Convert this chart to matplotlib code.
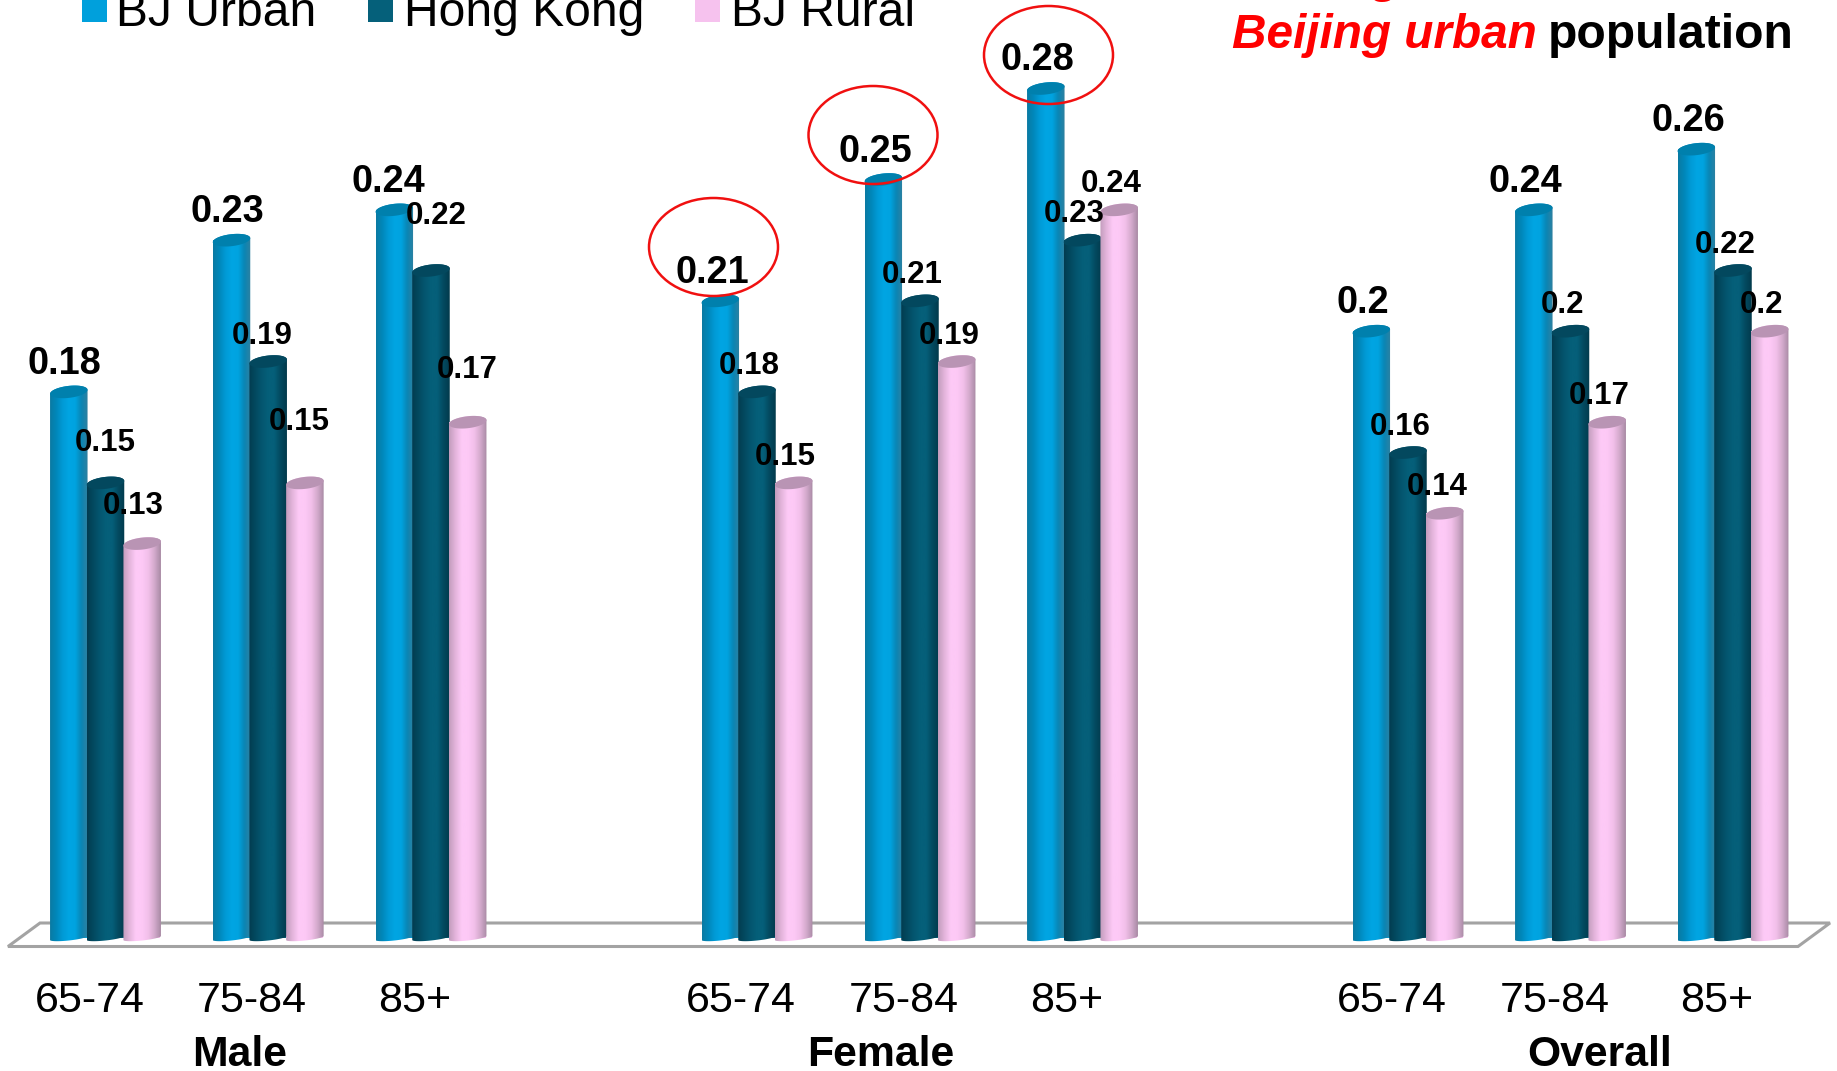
import numpy as np
import matplotlib
matplotlib.use("Agg")
import matplotlib.pyplot as plt
from matplotlib.colors import LinearSegmentedColormap
from matplotlib.patches import Ellipse, Polygon, Rectangle

plt.rcParams["font.family"] = ["Liberation Sans", "DejaVu Sans"]

groups = ["Male", "Female", "Overall"]
age_bands = ["65-74", "75-84", "85+"]
series_names = ["BJ Urban", "Hong Kong", "BJ Rural"]

bj_urban = [0.18, 0.23, 0.24, 0.21, 0.25, 0.28, 0.2, 0.24, 0.26]
hong_kong = [0.15, 0.19, 0.22, 0.18, 0.21, 0.23, 0.16, 0.2, 0.22]
bj_rural = [0.13, 0.15, 0.17, 0.15, 0.19, 0.24, 0.14, 0.17, 0.2]
values = [bj_urban, hong_kong, bj_rural]

W, H = 1837, 1071
baseline_px = 938
px_per_unit = 3034

# cylinder shading, left edge to right edge
ramps = [
    ["#0a7aa3", "#0088bb", "#009ad6", "#00a5e3", "#00a3e0", "#0a86b4", "#2f80a0"],
    ["#023c50", "#034a60", "#04566f", "#055f79", "#055f79", "#034a60", "#023a4c"],
    ["#c39dbd", "#e4b5dc", "#fdc9f6", "#fdc9f6", "#f2c0ea", "#d4aacd", "#a98ba5"],
]
cap_colors = ["#0080ad", "#03485e", "#b994b4"]
flat_colors = ["#00a0dc", "#05607a", "#fdc9f6"]
legend_colors = ["#00a0dc", "#05607a", "#f6c2ee"]

cluster_x = [105.5, 268.2, 431, 757, 920, 1082.5, 1408, 1570.5, 1733]
bar_w = 37.5
slot = 36.7

fig = plt.figure(figsize=(W / 100, H / 100), dpi=100, facecolor="white")


def pixel_axes(z):
    a = fig.add_axes([0, 0, 1, 1], zorder=z)
    a.set_xlim(0, W)
    a.set_ylim(H, 0)
    a.axis("off")
    return a


back = pixel_axes(0)
over = pixel_axes(2)

ax = fig.add_axes([0, 0, 1, 1], zorder=1)
ax.patch.set_alpha(0)
ax.axis("off")

# floor of the 3d chart
back.add_patch(Polygon([(8, 946.5), (40, 923), (1830, 923), (1798, 946.5)], closed=True,
                       facecolor="white", edgecolor="#a3a3a3", linewidth=2.2))

t = np.linspace(0, 2 * np.pi, 80)
top_h = 6 / px_per_unit
bot_h = 2.5 / px_per_unit
tilt = 2 / px_per_unit

for s in range(3):
    offset = (s - 1) * slot
    cmap = LinearSegmentedColormap.from_list(f"cyl{s}", ramps[s])
    grad = np.linspace(0, 1, 64).reshape(1, -1)
    for i, v in enumerate(values[s]):
        cx = cluster_x[i] + offset
        left, right = cx - bar_w / 2, cx + bar_w / 2
        ax.bar(cx, v, width=bar_w - 1, color=flat_colors[s], linewidth=0, zorder=2 + s)

        # body outline: rounded bottom plus the far edge of the cap
        tt = np.linspace(np.pi, 2 * np.pi, 40)
        xs_bot = cx + bar_w / 2 * np.cos(tt)
        ys_bot = bot_h * np.sin(tt) + tilt * np.cos(tt)
        tt2 = np.linspace(0, np.pi, 40)
        xs_top = cx + bar_w / 2 * np.cos(tt2)
        ys_top = v + top_h * np.sin(tt2) + tilt * np.cos(tt2)
        body = Polygon(np.column_stack([np.r_[xs_bot, xs_top], np.r_[ys_bot, ys_top]]),
                       closed=True, transform=ax.transData, facecolor="none", edgecolor="none")
        ax.add_patch(body)
        im = ax.imshow(grad, cmap=cmap, extent=(left, right, -10 / px_per_unit, v + 10 / px_per_unit),
                       aspect="auto", zorder=2 + s, interpolation="bilinear")
        im.set_clip_path(body)

        cap_x = cx + bar_w / 2 * np.cos(t)
        cap_y = v + top_h * np.sin(t) + tilt * np.cos(t)
        ax.fill(cap_x, cap_y, color=cap_colors[s], linewidth=0, zorder=2 + s)

ax.set_xlim(0, W)
ax.set_ylim((baseline_px - H) / px_per_unit, baseline_px / px_per_unit)

# value labels sit up and to the left of each cap, a few Male ones are moved further
label_shift = {
    (0, 0): (-4, 28), (0, 1): (-4, 28), (0, 2): (-6, 28),
    (1, 0): (0, 40), (1, 1): (-6, 26), (1, 2): (5, 55),
    (2, 0): (-9, 38), (2, 1): (-6, 61), (2, 2): (-1, 52),
}
for s in range(3):
    offset = (s - 1) * slot
    for i, v in enumerate(values[s]):
        default = (-8, 28) if s == 0 else (-8, 26)
        dx, dy = label_shift.get((s, i), default)
        size = 27.3 if s == 0 else 22.5
        ax.annotate(f"{v:g}", xy=(cluster_x[i] + offset, v), xytext=(dx, dy),
                    textcoords="offset pixels", ha="center", va="center",
                    fontsize=size, fontweight="bold", color="black", zorder=10)

# age bands and group names under the floor
for i, x in enumerate(cluster_x):
    over.text(x - 16, 1000.5, age_bands[i % 3], ha="center", va="center", fontsize=31)
for name, x in zip(groups, [240, 881, 1600]):
    over.text(x, 1055.5, name, ha="center", va="center", fontsize=30.8, fontweight="bold")

# highlighted Beijing urban values among women
for xy in [(713.5, 247), (873, 135), (1048.5, 55)]:
    over.add_patch(Ellipse(xy, 129, 98, facecolor="none", edgecolor="#f01010", linewidth=1.8))

# legend runs off the top edge
for name, color, sx, tx in zip(series_names, legend_colors, [82, 368, 695], [116, 404, 731]):
    over.add_patch(Rectangle((sx, -3), 25, 25, facecolor=color, edgecolor="none"))
    over.text(tx, 26, name, fontsize=34.6, va="baseline", ha="left")

over.text(1232, 48, "Beijing urban", color="#ff0000", fontsize=34.4, fontweight="bold",
          fontstyle="italic", va="baseline", ha="left")
over.text(1548, 48, "population", color="black", fontsize=34.7, fontweight="bold",
          va="baseline", ha="left")
over.text(1371, -8, "g", color="#ff0000", fontsize=34, fontweight="bold",
          fontstyle="italic", va="baseline", ha="left")

fig.savefig("out.png", dpi=100)
